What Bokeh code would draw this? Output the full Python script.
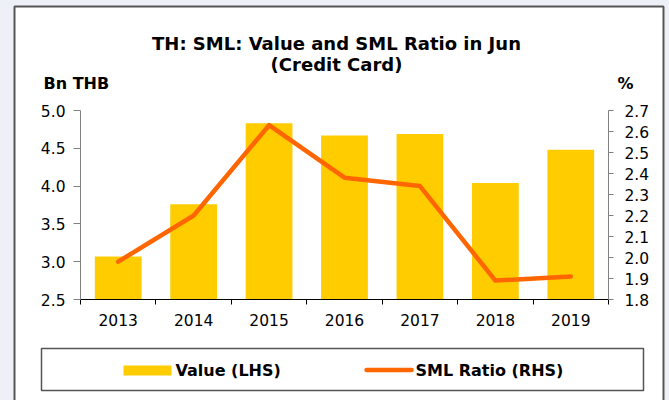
from bokeh.plotting import figure
from bokeh.models import (Range1d, LinearAxis, FixedTicker, ColumnDataSource,
                          PrintfTickFormatter)
from bokeh.core.properties import value
from bokeh.embed import file_html
from bokeh.resources import INLINE

# ---- data ----
years = ["2013", "2014", "2015", "2016", "2017", "2018", "2019"]
value_bn_thb = [3.07, 3.76, 4.83, 4.67, 4.69, 4.04, 4.48]
sml_ratio_pct = [1.98, 2.20, 2.63, 2.38, 2.34, 1.89, 1.91]
left_ticks = [2.5, 3.0, 3.5, 4.0, 4.5, 5.0]
right_ticks = [1.8, 1.9, 2.0, 2.1, 2.2, 2.3, 2.4, 2.5, 2.6, 2.7]
series_names = ["Value (LHS)", "SML Ratio (RHS)"]

FONT = "DejaVu Sans"
BAR_COLOR = "#FFCC00"
LINE_COLOR = "#FF6600"
PAGE_BG = "#eef0f8"
BOX_LINE = "#555555"

# ---- canvas / frame geometry (pixels) ----
W, H = 669, 400
FL, FR, FT, FB = 80, 608, 110, 299   # frame left/right/top/bottom

x_pos = [i + 0.5 for i in range(len(years))]
src = ColumnDataSource(dict(x=x_pos, year=years, value=value_bn_thb, ratio=sml_ratio_pct))

p = figure(width=W, height=H, output_backend="svg", toolbar_location=None,
           x_range=Range1d(0, len(years)),
           y_range=Range1d(left_ticks[0], left_ticks[-1]),
           min_border_left=FL, min_border_right=W - FR, min_border_top=FT,
           min_border_bottom=H - FB)
p.extra_y_ranges = {"ratio": Range1d(right_ticks[0], right_ticks[-1])}
p.grid.visible = False
p.outline_line_color = None
p.background_fill_color = "white"
p.border_fill_color = "white"

# pixel -> data helpers for decorations outside the frame
xr0, xr1 = 0, len(years)
yr0, yr1 = left_ticks[0], left_ticks[-1]
def px_x(px):
    return xr0 + (px - FL) * (xr1 - xr0) / (FR - FL)
def px_y(py):
    return yr1 - (py - FT) * (yr1 - yr0) / (FB - FT)

# bars and line
bars = p.vbar(x="x", top="value", width=0.62, source=src,
              fill_color=BAR_COLOR, line_color=None)
line = p.line(x="x", y="ratio", source=src, y_range_name="ratio",
              line_color=LINE_COLOR, line_width=4.5, line_join="round",
              line_cap="round")

# x axis
xa = p.xaxis[0]
xa.ticker = FixedTicker(ticks=x_pos, minor_ticks=list(range(len(years) + 1)))
xa.major_label_overrides = {x: y for x, y in zip(x_pos, years)}
xa.major_tick_out = 0
xa.major_tick_in = 0
xa.minor_tick_out = 5
xa.minor_tick_in = 0
xa.minor_tick_line_color = "black"
xa.axis_line_color = "black"
xa.major_label_standoff = 9
xa.major_label_text_font = FONT
xa.major_label_text_font_size = "15.5px"
xa.major_label_text_color = "black"

# left axis
ya = p.yaxis[0]
ya.ticker = FixedTicker(ticks=left_ticks)
ya.formatter = PrintfTickFormatter(format="%.1f")
ya.axis_line_color = "#808080"
ya.major_tick_line_color = "#808080"
ya.major_tick_out = 7
ya.major_tick_in = 0
ya.minor_tick_line_color = None
ya.major_label_standoff = 8
ya.major_label_text_font = FONT
ya.major_label_text_font_size = "15.5px"
ya.major_label_text_color = "black"

# right axis
ra = LinearAxis(y_range_name="ratio", ticker=FixedTicker(ticks=right_ticks),
                formatter=PrintfTickFormatter(format="%.1f"))
ra.axis_line_color = "#808080"
ra.major_tick_line_color = "#808080"
ra.major_tick_out = 5
ra.major_tick_in = 0
ra.minor_tick_line_color = None
ra.major_label_standoff = 11
ra.major_label_text_font = FONT
ra.major_label_text_font_size = "15.5px"
ra.major_label_text_color = "black"
p.add_layout(ra, "right")

# ---- texts outside the frame (overlay level, not clipped) ----
p.text(x=[px_x(336)], y=[px_y(43)], text=["TH: SML: Value and SML Ratio in Jun"],
       text_font=value(FONT), text_font_style="bold", text_font_size="18px",
       text_align="center", text_baseline="alphabetic", text_color="black",
       level="overlay")
p.text(x=[px_x(336)], y=[px_y(64)], text=["(Credit Card)"],
       text_font=value(FONT), text_font_style="bold", text_font_size="18px",
       text_align="center", text_baseline="alphabetic", text_color="black",
       level="overlay")
p.text(x=[px_x(43), px_x(617)], y=[px_y(83), px_y(83)], text=["Bn THB", "%"],
       text_font=value(FONT), text_font_style="bold", text_font_size="16px",
       text_align="left", text_baseline="alphabetic", text_color="black",
       level="overlay")

# page background strips and outer chart box
p.quad(left=[px_x(-5), px_x(-5), px_x(664)], right=[px_x(13), px_x(675), px_x(675)],
       top=[px_y(-5), px_y(-5), px_y(-5)], bottom=[px_y(405), px_y(5), px_y(405)],
       fill_color=PAGE_BG, line_color=None, level="overlay")
p.quad(left=[px_x(14)], right=[px_x(663)], top=[px_y(6)], bottom=[px_y(420)],
       fill_alpha=0, line_color=BOX_LINE, line_width=2, level="overlay")

# ---- legend (drawn below the axis, outside the frame) ----
p.quad(left=[px_x(41)], right=[px_x(643)], top=[px_y(348)], bottom=[px_y(390)],
       fill_alpha=0, line_color=BOX_LINE, line_width=1.5, level="overlay")
p.quad(left=[px_x(123)], right=[px_x(171)], top=[px_y(365)], bottom=[px_y(375)],
       fill_color=BAR_COLOR, line_color=None, level="overlay")
p.segment(x0=[px_x(366)], x1=[px_x(411)], y0=[px_y(369.5)], y1=[px_y(369.5)],
          line_color=LINE_COLOR, line_width=4.5, line_cap="round", level="overlay")
p.text(x=[px_x(175), px_x(415)], y=[px_y(370), px_y(370)], text=series_names,
       text_font=value(FONT), text_font_style="bold", text_font_size="16px",
       text_align="left", text_baseline="middle", text_color="black",
       level="overlay")

open("out.html", "w").write(file_html(p, INLINE))
